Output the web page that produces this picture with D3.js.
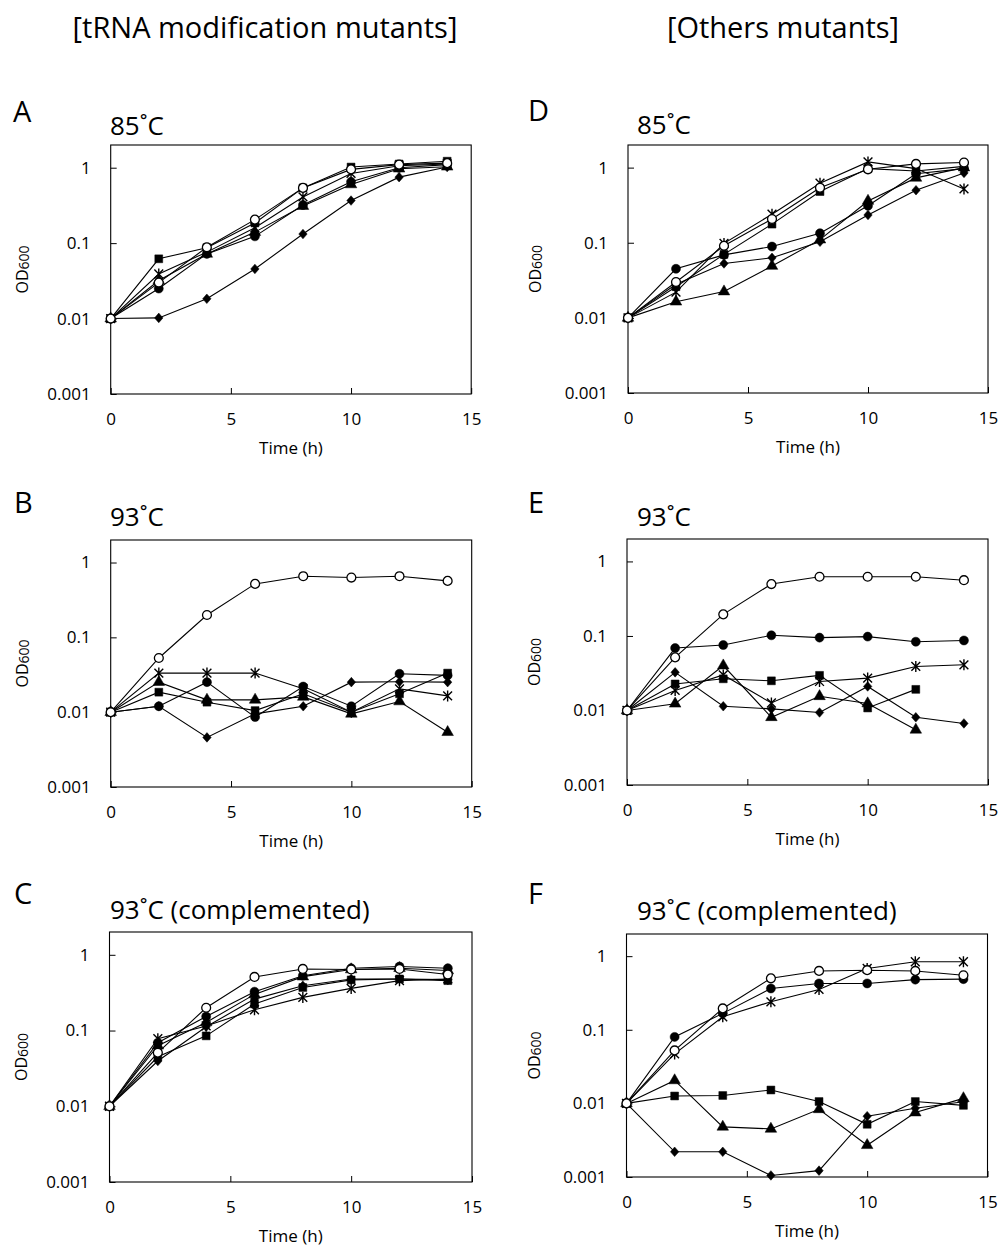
<!DOCTYPE html>
<html>
<head>
<meta charset="utf-8">
<script src="https://cdn.jsdelivr.net/npm/d3@7"></script>
<style>
  html, body { margin: 0; padding: 0; background: #fff; }
  svg { display: block; font-family: "Open Sans", sans-serif; }
</style>
</head>
<body>
<svg id="chart" width="1000" height="1246"></svg>
<script>
// ---------------- DATA ----------------
const times = [0, 2, 4, 6, 8, 10, 12, 14];
const xTicks = [0, 5, 10, 15];
const yTicks = [0.001, 0.01, 0.1, 1];
const yTickLabels = ["0.001", "0.01", "0.1", "1"];
const columnHeadings = ["[tRNA modification mutants]", "[Others mutants]"];
const panelLetters = ["A", "B", "C", "D", "E", "F"];
const panelTitles = ["85˚C", "93˚C", "93˚C (complemented)", "85˚C", "93˚C", "93˚C (complemented)"];
const seriesMarkers = ["square", "circle", "triangle", "diamond", "asterisk", "open"];

// Panel A: 85˚C, tRNA modification mutants
const A_square   = [0.01, 0.062, 0.087, 0.185, 0.54, 1.02, 1.12, 1.22];
const A_circle   = [0.01, 0.025, 0.072, 0.123, 0.32, 0.65, 1.0, 1.1];
const A_triangle = [0.01, 0.032, 0.072, 0.14, 0.31, 0.6, 0.97, 1.03];
const A_diamond  = [0.01, 0.0102, 0.0183, 0.0455, 0.132, 0.367, 0.75, 1.02];
const A_asterisk = [0.01, 0.039, 0.076, 0.16, 0.41, 0.84, 1.06, 1.12];
const A_open     = [0.01, 0.03, 0.088, 0.205, 0.54, 0.95, 1.1, 1.15];

// Panel B: 93˚C, tRNA modification mutants
const B_square   = [0.01, 0.0185, 0.0136, 0.0105, 0.0176, 0.01, 0.0176, 0.0333];
const B_circle   = [0.01, 0.012, 0.0252, 0.0086, 0.022, 0.012, 0.0326, 0.031];
const B_triangle = [0.01, 0.0252, 0.0146, 0.0146, 0.016, 0.0095, 0.0139, 0.0054];
const B_diamond  = [0.01, 0.012, 0.0046, 0.0095, 0.012, 0.0252, 0.0255, 0.0252];
const B_asterisk = [0.01, 0.0333, 0.0333, 0.0333, 0.0205, 0.01, 0.0205, 0.0165];
const B_open     = [0.01, 0.053, 0.199, 0.518, 0.656, 0.63, 0.656, 0.568];

// Panel C: 93˚C (complemented), tRNA modification mutants
const C_square   = [0.01, 0.045, 0.085, 0.224, 0.37, 0.466, 0.48, 0.456];
const C_circle   = [0.01, 0.069, 0.153, 0.326, 0.53, 0.665, 0.70, 0.665];
const C_triangle = [0.01, 0.063, 0.128, 0.30, 0.515, 0.64, 0.665, 0.62];
const C_diamond  = [0.01, 0.0396, 0.112, 0.26, 0.39, 0.48, 0.48, 0.47];
const C_asterisk = [0.01, 0.078, 0.115, 0.188, 0.274, 0.36, 0.456, 0.48];
const C_open     = [0.01, 0.051, 0.2, 0.51, 0.65, 0.64, 0.65, 0.55];

// Panel D: 85˚C, other mutants
const D_square   = [0.01, 0.026, 0.070, 0.177, 0.48, 0.97, 0.9, 1.04];
const D_circle   = [0.01, 0.045, 0.069, 0.089, 0.134, 0.31, 0.83, 0.97];
const D_triangle = [0.01, 0.0164, 0.0224, 0.049, 0.11, 0.36, 0.73, 1.0];
const D_diamond  = [0.01, 0.028, 0.053, 0.063, 0.103, 0.234, 0.50, 0.85];
const D_asterisk = [0.01, 0.022, 0.098, 0.24, 0.62, 1.19, 0.97, 0.52];
const D_open     = [0.01, 0.030, 0.091, 0.207, 0.54, 0.95, 1.12, 1.17];

// Panel E: 93˚C, other mutants
const E_square   = [0.01, 0.0227, 0.0266, 0.025, 0.0296, 0.0108, 0.0192, null];
const E_circle   = [0.01, 0.0688, 0.0755, 0.102, 0.095, 0.098, 0.0837, 0.087];
const E_triangle = [0.01, 0.0123, 0.040, 0.0081, 0.0155, 0.0124, 0.0055, null];
const E_diamond  = [0.01, 0.0325, 0.0114, 0.0105, 0.0094, 0.021, 0.0081, 0.0067];
const E_asterisk = [0.01, 0.0186, 0.03, 0.0126, 0.0245, 0.0272, 0.039, 0.041];
const E_open     = [0.01, 0.0516, 0.195, 0.497, 0.623, 0.623, 0.623, 0.56];

// Panel F: 93˚C (complemented), other mutants
const F_square   = [0.01, 0.0126, 0.0128, 0.0152, 0.0106, 0.0052, 0.0106, 0.0094];
const F_circle   = [0.01, 0.080, 0.167, 0.364, 0.426, 0.426, 0.48, 0.487];
const F_triangle = [0.01, 0.0205, 0.0048, 0.0045, 0.0083, 0.0027, 0.0075, 0.0117];
const F_diamond  = [0.01, 0.0022, 0.0022, 0.00105, 0.00122, 0.0067, 0.0086, 0.0105];
const F_asterisk = [0.01, 0.047, 0.150, 0.24, 0.353, 0.68, 0.84, 0.84];
const F_open     = [0.01, 0.0524, 0.195, 0.50, 0.63, 0.645, 0.63, 0.55];

const panelSeries = {
  A: [A_square, A_circle, A_triangle, A_diamond, A_asterisk, A_open],
  B: [B_square, B_circle, B_triangle, B_diamond, B_asterisk, B_open],
  C: [C_square, C_circle, C_triangle, C_diamond, C_asterisk, C_open],
  D: [D_square, D_circle, D_triangle, D_diamond, D_asterisk, D_open],
  E: [E_square, E_circle, E_triangle, E_diamond, E_asterisk, E_open],
  F: [F_square, F_circle, F_triangle, F_diamond, F_asterisk, F_open]
};

// ---------------- LAYOUT ----------------
const layout = {
  A: { left: 110.7, top: 145,   w: 360.5, h: 249, lx: 13,  ly: 122, tx: 110, ty: 135 },
  B: { left: 110.7, top: 540,   w: 361,   h: 247, lx: 14,  ly: 513, tx: 110, ty: 526 },
  C: { left: 109.5, top: 932,   w: 362.5, h: 250, lx: 14,  ly: 904, tx: 110, ty: 919 },
  D: { left: 628,   top: 145,   w: 360,   h: 248, lx: 528, ly: 121, tx: 637, ty: 134 },
  E: { left: 627,   top: 539,   w: 361,   h: 246, lx: 528, ly: 513, tx: 637, ty: 526 },
  F: { left: 626.5, top: 934,   w: 361,   h: 243, lx: 528, ly: 904, tx: 637, ty: 920 }
};
const headingPos = [{ x: 265, y: 38 }, { x: 783, y: 38 }];

const svg = d3.select("#chart");

columnHeadings.forEach((t, i) => {
  svg.append("text")
    .attr("x", headingPos[i].x).attr("y", headingPos[i].y)
    .attr("text-anchor", "middle")
    .attr("font-size", 29)
    .attr("fill", "#000")
    .text(t);
});

function asteriskPath(r) {
  return `M${-r},${-r}L${r},${r}M${-r},${r}L${r},${-r}M0,${-r * 1.25}L0,${r * 1.25}`;
}
function diamondPath(w, h) {
  return `M0,${-h}L${w},0L0,${h}L${-w},0Z`;
}

function markerPath(kind) {
  switch (kind) {
    case "square": return d3.symbol(d3.symbolSquare, 62)();
    case "circle": return d3.symbol(d3.symbolCircle, 64)();
    case "open": return d3.symbol(d3.symbolCircle, 62)();
    case "triangle": return d3.symbol(d3.symbolTriangle, 58)();
    case "diamond": return diamondPath(4.2, 4.8);
    case "asterisk": return asteriskPath(4.4);
  }
}

panelLetters.forEach((key, pi) => {
  const L = layout[key];
  const g = svg.append("g").attr("transform", `translate(${L.left},${L.top})`);

  const x = d3.scaleLinear().domain([0, 15]).range([0, L.w]);
  const y = d3.scaleLog().domain([0.001, 2]).range([L.h, 0]);

  // panel letter and title
  svg.append("text").attr("x", L.lx).attr("y", L.ly)
    .attr("font-size", 29).attr("fill", "#000").text(key);
  svg.append("text").attr("x", L.tx).attr("y", L.ty)
    .attr("font-size", 26).attr("fill", "#000").text(panelTitles[pi]);

  // axes
  const yAxis = d3.axisLeft(y)
    .tickValues(yTicks)
    .tickFormat((d, i) => yTickLabels[i])
    .tickSizeInner(-6).tickSizeOuter(0).tickPadding(20);
  const ya = g.append("g").call(yAxis);
  ya.select(".domain").remove();
  ya.selectAll("text").attr("font-size", 17).attr("font-family", "Open Sans").attr("fill", "#000");
  ya.selectAll("line").attr("stroke", "#000");

  const xAxis = d3.axisBottom(x)
    .tickValues(xTicks)
    .tickSizeInner(-6).tickSizeOuter(0).tickPadding(19);
  const xa = g.append("g").attr("transform", `translate(0,${L.h})`).call(xAxis);
  xa.select(".domain").remove();
  xa.selectAll("text").attr("font-size", 17).attr("font-family", "Open Sans").attr("fill", "#000");
  xa.selectAll("line").attr("stroke", "#000");

  // frame
  g.append("rect").attr("x", 0).attr("y", 0).attr("width", L.w).attr("height", L.h)
    .attr("fill", "none").attr("stroke", "#000").attr("stroke-width", 1.1);

  // axis titles
  g.append("text").attr("x", L.w / 2).attr("y", L.h + 60)
    .attr("text-anchor", "middle").attr("font-size", 17).attr("fill", "#000")
    .text("Time (h)");
  const yl = g.append("text")
    .attr("transform", `translate(${pi < 3 ? -83 : -87},${L.h / 2}) rotate(-90)`)
    .attr("text-anchor", "middle").attr("font-size", 16).attr("fill", "#000");
  yl.append("tspan").text("OD");
  yl.append("tspan").attr("font-size", 14).attr("dy", 1).text("600");

  // series
  const series = panelSeries[key].map((vals, si) => ({
    marker: seriesMarkers[si],
    pts: times.map((t, i) => ({ t, v: vals[i] }))
  }));

  const line = d3.line()
    .defined(d => d.v != null)
    .x(d => x(d.t)).y(d => y(d.v));

  g.append("g").selectAll("path").data(series).join("path")
    .attr("d", s => line(s.pts))
    .attr("fill", "none").attr("stroke", "#000").attr("stroke-width", 1.1);

  series.forEach(s => {
    const p = markerPath(s.marker);
    g.append("g").selectAll("path")
      .data(s.pts.filter(d => d.v != null))
      .join("path")
      .attr("d", p)
      .attr("transform", d => `translate(${x(d.t)},${y(d.v)})`)
      .attr("fill", s.marker === "open" ? "#fff" : (s.marker === "asterisk" ? "none" : "#000"))
      .attr("stroke", "#000")
      .attr("stroke-width", s.marker === "open" ? 1.3 : (s.marker === "asterisk" ? 1.4 : 0.5));
  });
});
</script>
</body>
</html>
